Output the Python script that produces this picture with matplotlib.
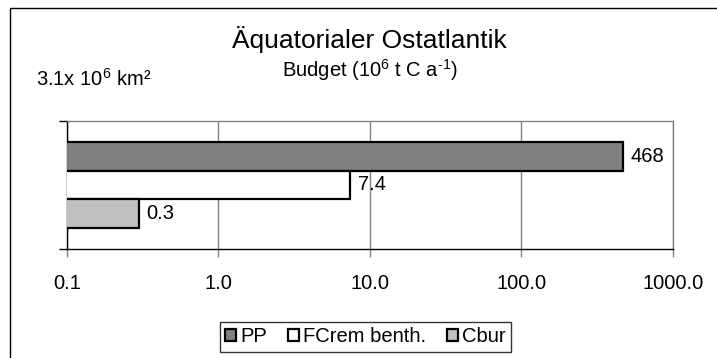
""" budget_bars.py
    Horizontal log-scale bar chart of the carbon budget for one ocean region
"""

import matplotlib as mpl
import matplotlib.pyplot as plt
from matplotlib.patches import Patch, Rectangle

# Data
SERIES = ["PP", "FCrem benth.", "Cbur"]
VALUES = [468, 7.4, 0.3]
VALUE_LABELS = ["468", "7.4", "0.3"]
X_TICKS = [0.1, 1, 10, 100, 1000]
X_TICK_LABELS = ["0.1", "1.0", "10.0", "100.0", "1000.0"]

TITLE = "Äquatorialer Ostatlantik"
SUBTITLE = "Budget (10$^{6}$ t C a$^{\u20101}$)"
AREA = "3.1x 10$^{6}$ km²"

# Colours
C_FACE = ["#808080", "#FFFFFF", "#C0C0C0"]
C_EDGE = "#000000"
C_GRID = "#808080"

# Fonts
FONT = "Liberation Sans"
mpl.rcParams["font.family"] = FONT
mpl.rcParams["mathtext.fontset"] = "custom"
mpl.rcParams["mathtext.rm"] = FONT
mpl.rcParams["mathtext.it"] = FONT + ":italic"
mpl.rcParams["mathtext.bf"] = FONT + ":bold"
FS = 14.5

W, H = 717, 358


def px(x, y):
    """ pixel position -> figure fraction """
    return x / W, 1 - y / H


def budget_chart(f_name: str) -> int:
    fig = plt.figure(figsize=(W / 100, H / 100), dpi=100)

    # outer chart border
    fig.patches.append(Rectangle(px(10, 8), (W + 10) / W, -(H + 10) / H,
                                 transform=fig.transFigure, fill=False,
                                 edgecolor="black", linewidth=1.0))

    left, top = px(66.7, 120.7)
    right, bottom = px(673, 249)
    ax = fig.add_axes([left, bottom, right - left, top - bottom])

    # one category, three bars stacked inside the group
    n = len(VALUES)
    bar_h = 0.222
    y_pos = [0.5 + (i - (n - 1) / 2) * bar_h for i in range(n)]

    ax.barh(y_pos, VALUES, height=bar_h, left=0.0001, color=C_FACE,
            edgecolor=C_EDGE, linewidth=1.6, zorder=3)

    for y, v, lab in zip(y_pos, VALUES, VALUE_LABELS):
        ax.annotate(lab, (v, y), xytext=(5.5, 0), textcoords="offset points",
                    va="center", ha="left", fontsize=FS, zorder=4)

    ax.set_xscale("log")
    ax.set_xlim(0.1, 1000)
    ax.set_ylim(1, 0)
    ax.set_xticks(X_TICKS)
    ax.set_xticklabels(X_TICK_LABELS)
    ax.xaxis.set_minor_locator(mpl.ticker.NullLocator())
    ax.set_yticks([0, 1])
    ax.set_yticklabels([])

    ax.tick_params(axis="x", length=6, width=1, color=C_GRID, pad=12, labelsize=FS)
    ax.tick_params(axis="y", length=6, width=1, color="black")

    ax.xaxis.grid(True, color=C_GRID, linewidth=1)
    ax.set_axisbelow(True)

    ax.spines[["left", "bottom"]].set_color("black")
    ax.spines[["top", "right"]].set_color(C_GRID)
    for s in ax.spines.values():
        s.set_linewidth(1)

    # titles
    fig.text(*px(369.5, 48.3), TITLE, ha="center", va="baseline", fontsize=19)
    fig.text(*px(370, 76.7), SUBTITLE, ha="center", va="baseline", fontsize=FS)
    fig.text(*px(36, 86), AREA, ha="left", va="baseline", fontsize=FS)

    # legend
    handles = [Patch(facecolor=c, edgecolor=C_EDGE, linewidth=1.6) for c in C_FACE]
    leg = fig.legend(handles, SERIES, loc="center", bbox_to_anchor=px(365.5, 337),
                     ncol=3, fontsize=FS, frameon=True, fancybox=False,
                     handlelength=0.55, handleheight=0.55, handletextpad=0.2,
                     columnspacing=1.05, borderpad=0.25, borderaxespad=0)
    leg.get_frame().set_edgecolor("black")
    leg.get_frame().set_linewidth(1)

    fig.savefig(f_name, dpi=100)
    plt.close(fig)
    return 0


if __name__ == "__main__":
    budget_chart("out.png")
